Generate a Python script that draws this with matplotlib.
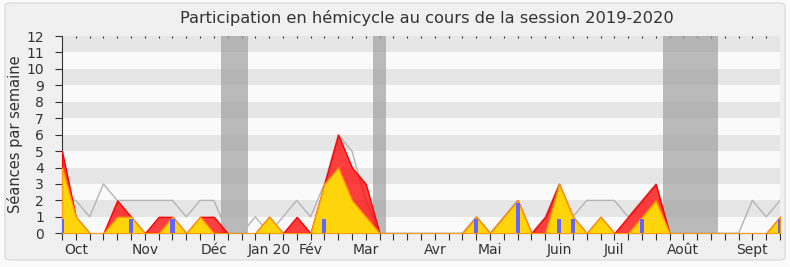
import matplotlib
matplotlib.use('Agg')
import matplotlib.pyplot as plt
from matplotlib.patches import FancyBboxPatch

# weekly values, session 2019-2020 (53 weeks)
weeks = list(range(53))
presences = [5, 1, 0, 0, 2, 1, 0, 1, 1, 0, 1, 1, 0, 0, 0, 1, 0, 1, 0, 3,
             6, 4, 3, 0, 0, 0, 0, 0, 0, 0, 1, 0, 1, 2, 0, 1, 3, 1, 0, 1,
             0, 1, 2, 3, 0, 0, 0, 0, 0, 0, 0, 0, 1]
interventions = [4, 1, 0, 0, 1, 1, 0, 0, 1, 0, 1, 0, 0, 0, 0, 1, 0, 0, 0, 3,
                 4, 2, 1, 0, 0, 0, 0, 0, 0, 0, 1, 0, 1, 2, 0, 0, 3, 1, 0, 1,
                 0, 0, 1, 2, 0, 0, 0, 0, 0, 0, 0, 0, 1]
mediane = [2, 2, 1, 3, 2, 2, 2, 2, 2, 1, 2, 2, 0, 0, 1, 0, 1, 2, 1, 3,
           6, 5, 2, 0, 0, 0, 0, 0, 0, 0, 1, 0, 1, 2, 0, 1, 3, 1, 2, 2,
           2, 1, 2, 3, 0, 0, 0, 0, 0, 0, 2, 1, 2]
question_weeks = [0, 5, 8, 19, 30, 33, 36, 37, 42, 52]
questions = [0.85, 0.85, 0.85, 0.85, 0.85, 1.85, 0.85, 0.85, 0.85, 0.85]

vacances = [(11.5, 13.5), (22.5, 23.5), (43.5, 47.5)]

month_weeks = [1, 6, 11, 15, 18, 22, 27, 31, 36, 40, 45, 50]
month_labels = ['Oct', 'Nov', 'Déc', 'Jan 20', 'Fév', 'Mar', 'Avr', 'Mai',
                'Juin', 'Juil', 'Août', 'Sept']

plt.rcParams['font.family'] = ['DejaVu Sans']

W, H = 790, 267
fig = plt.figure(figsize=(W / 100, H / 100), dpi=100, facecolor='#fafafa')
fig.patches.append(FancyBboxPatch((5 / W, 7 / H), 780 / W, 257 / H,
                                  boxstyle='round,pad=0,rounding_size=0.01',
                                  transform=fig.transFigure, zorder=-10,
                                  facecolor='#f0f0f0', edgecolor='#dcdcdc', lw=1))

ax = fig.add_axes([62 / W, (H - 233.3) / H, 718 / W, (233.3 - 36) / H])
ax.set_zorder(1)
ax.set_facecolor('#fafafa')
for k in range(1, 12, 2):
    ax.axhspan(k, k + 1, color='#e6e6e6', lw=0, zorder=0)
for a, b in vacances:
    ax.axvspan(a, b, color='#a0a0a0', alpha=0.7, lw=0, zorder=1)

ax.plot(weeks, mediane, color='#b4b4b4', lw=1, zorder=2)
ax.fill_between(weeks, 0, presences, facecolor=(1, 0, 0, 0.75),
                edgecolor='#ff0000', lw=1, zorder=3)
ax.fill_between(weeks, 0, interventions, facecolor='#ffd40a',
                edgecolor='#ff9a00', lw=1, zorder=4)
ax.bar(question_weeks, questions, width=0.3, color='#6464ff', lw=0, zorder=5)

ax.set_xlim(0, 52)
ax.set_ylim(0, 12)
ax.set_yticks(range(13))
ax.set_xticks(weeks)
ax.set_xticklabels([month_labels[month_weeks.index(w)] if w in month_weeks else ''
                    for w in weeks])
ax.tick_params(axis='both', length=5, color='#333333', labelcolor='#333333',
               labelsize=10)
ax.tick_params(axis='y', pad=8)
ax.tick_params(axis='x', pad=2)
for s in ['top', 'right']:
    ax.spines[s].set_visible(False)
for s in ['left', 'bottom']:
    ax.spines[s].set_color('#333333')

top = ax.secondary_xaxis('top')
top.set_xticks(weeks[1:-1])
top.set_xticklabels([])
top.tick_params(length=1.5, direction='in', color='#333333')
top.spines['top'].set_visible(False)

ax.set_ylabel('Séances par semaine', fontsize=10.5, color='#333333')
ax.yaxis.set_label_coords(-39 / 718, 0.5)
fig.text(427 / W, 1 - 18 / H, 'Participation en hémicycle au cours de la session 2019-2020',
         ha='center', va='center', fontsize=11.7, color='#333333')

fig.savefig('out.png', dpi=100, facecolor=fig.get_facecolor())
